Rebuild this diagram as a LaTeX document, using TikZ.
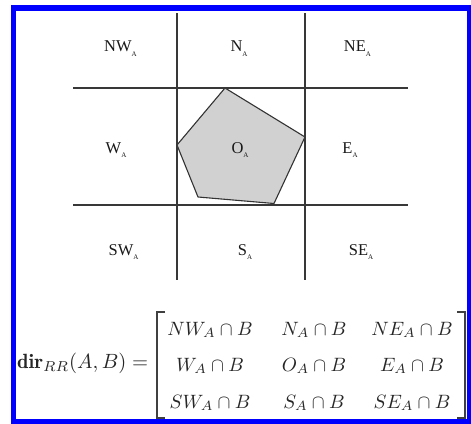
\documentclass[tikz,border=0pt]{standalone}
\usepackage{amsmath}
\usepackage{fontspec}
\newfontfamily\tms{Liberation Serif}
\newcommand{\subA}{\raisebox{-4.5pt}{\fontsize{7}{8}\selectfont A}}
\newcommand{\ent}[1]{\scalebox{1.93}{$#1$}}
\begin{document}
\begin{tikzpicture}[x=1pt,y=-1pt,
  gridline/.style={draw=black!78, line width=1.3pt},
  region/.style={font=\fontsize{16.5}{18}\selectfont\tms, text=black!90, inner sep=0pt, anchor=base},
  poly/.style={draw=black!80, line width=1.1pt, fill=black!18, line join=round},
  frame/.style={draw=blue, line width=5.5pt},
  entry/.style={text=black!85, inner sep=0pt, anchor=base},
  bracket/.style={draw=black!75, line width=1.4pt, line cap=butt}]
\useasboundingbox (0,0) rectangle (471,423);
\draw[frame] (13.5,8) rectangle (469.5,421.8);
% grid
\coordinate (v1t) at (177,13);  \coordinate (v1b) at (177,280);
\coordinate (v2t) at (305,13);  \coordinate (v2b) at (305,280);
\coordinate (h1l) at (73,88);   \coordinate (h1r) at (408,88);
\coordinate (h2l) at (73,205);  \coordinate (h2r) at (408,205);
% polygon
\coordinate (p1) at (225,88);
\coordinate (p2) at (305,137);
\coordinate (p3) at (274,203.5);
\coordinate (p4) at (198,197);
\coordinate (p5) at (177,145);
\draw[poly] (p1) -- (p2) -- (p3) -- (p4) -- (p5) -- cycle;
\draw[gridline] (v1t) -- (v1b);
\draw[gridline] (v2t) -- (v2b);
\draw[gridline] (h1l) -- (h1r);
\draw[gridline] (h2l) -- (h2r);
% labels
\node[region] (nw) at (120.5,51.5) {NW\subA};
\node[region] (n)  at (239,51.5) {N\subA};
\node[region] (ne) at (357.5,51.5) {NE\subA};
\node[region] (w)  at (116,153) {W\subA};
\node[region] (o)  at (240,153) {O\subA};
\node[region] (e)  at (350,153) {E\subA};
\node[region] (sw) at (123.5,255) {SW\subA};
\node[region] (s)  at (245,255) {S\subA};
\node[region] (se) at (361,255) {SE\subA};
% equation
\node[entry, anchor=base west] (lhs) at (17,368) {\scalebox{2.06}{$\mathbf{dir}_{RR}(A,B) =$}};
\node[entry] (m11) at (210,335) {\ent{NW_A\cap B}};
\node[entry] (m12) at (314,335) {\ent{N_A\cap B}};
\node[entry] (m13) at (412,335) {\ent{NE_A\cap B}};
\node[entry] (m21) at (210,371) {\ent{W_A\cap B}};
\node[entry] (m22) at (314,371) {\ent{O_A\cap B}};
\node[entry] (m23) at (412,371) {\ent{E_A\cap B}};
\node[entry] (m31) at (210,408) {\ent{SW_A\cap B}};
\node[entry] (m32) at (314,408) {\ent{S_A\cap B}};
\node[entry] (m33) at (412,408) {\ent{SE_A\cap B}};
% brackets
\coordinate (bl1) at (165,312); \coordinate (bl2) at (157,312);
\coordinate (bl3) at (157,418); \coordinate (bl4) at (165,418);
\coordinate (br1) at (457,312); \coordinate (br2) at (465,312);
\coordinate (br3) at (465,418); \coordinate (br4) at (457,418);
\draw[bracket] (bl1) -- (bl2) -- (bl3) -- (bl4);
\draw[bracket] (br1) -- (br2) -- (br3) -- (br4);
\end{tikzpicture}
\end{document}
